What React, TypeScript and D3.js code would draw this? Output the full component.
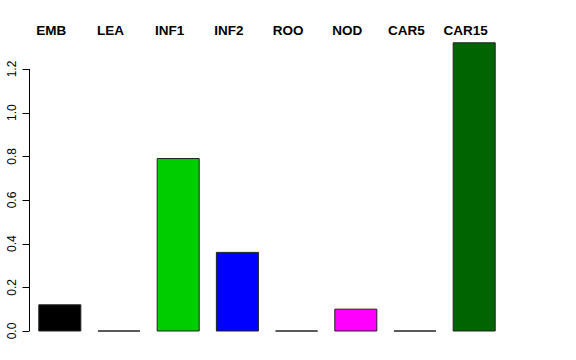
import React from "react";
import * as d3 from "d3";

const categories = ["EMB", "LEA", "INF1", "INF2", "ROO", "NOD", "CAR5", "CAR15"];
const values = [0.12, 0, 0.79, 0.36, 0, 0.10, 0, 1.32];
const colors = ["#000000", "#FF0000", "#00CD00", "#0000FF", "#00FFFF", "#FF00FF", "#FFFF00", "#006400"];
const yTicks = [0, 0.2, 0.4, 0.6, 0.8, 1.0, 1.2];

const W = 576;
const H = 360;

export default function App() {
  const x = d3
    .scaleBand<string>()
    .domain(categories)
    .range([29.7, 503.3])
    .paddingInner(0.29)
    .paddingOuter(0.145);
  const y = d3.scaleLinear().domain([0, 1.2]).range([331, 69]);
  const axisX = 29.5;
  const font = "'Liberation Sans', Arial, Helvetica, sans-serif";

  return (
    <svg
      width={W}
      height={H}
      style={{ position: "absolute", left: 0, top: 0, background: "#fff" }}
      fontFamily={font}
    >
      <rect x={0} y={0} width={W} height={H} fill="#fff" />
      {categories.map((c, i) => {
        const x0 = x(c)! + 0.5;
        const bw = x.bandwidth();
        const yt = y(values[i]);
        const y0 = y(0);
        const p = d3.path();
        p.moveTo(x0, y0);
        p.lineTo(x0, yt);
        p.lineTo(x0 + bw, yt);
        p.lineTo(x0 + bw, y0);
        p.closePath();
        return (
          <path
            key={c}
            d={p.toString()}
            fill={colors[i]}
            stroke="#222"
            strokeWidth={1}
          />
        );
      })}
      {categories.map((c) => (
        <text
          key={"l" + c}
          x={x(c)! + x.bandwidth() / 2 - 8}
          y={35}
          textAnchor="middle"
          fontWeight="bold"
          fontSize={13.5}
          fill="#000"
        >
          {c}
        </text>
      ))}
      <line x1={axisX} x2={axisX} y1={y(1.2)} y2={y(0)} stroke="#000" strokeWidth={1} />
      {yTicks.map((t) => (
        <g key={"t" + t}>
          <line x1={axisX - 7} x2={axisX} y1={Math.round(y(t)) + 0.5} y2={Math.round(y(t)) + 0.5} stroke="#000" strokeWidth={1} />
          <text
            transform={`translate(${16},${y(t)}) rotate(-90)`}
            textAnchor="middle"
            fontSize={12}
            fill="#000"
          >
            {d3.format(".1f")(t)}
          </text>
        </g>
      ))}
    </svg>
  );
}
